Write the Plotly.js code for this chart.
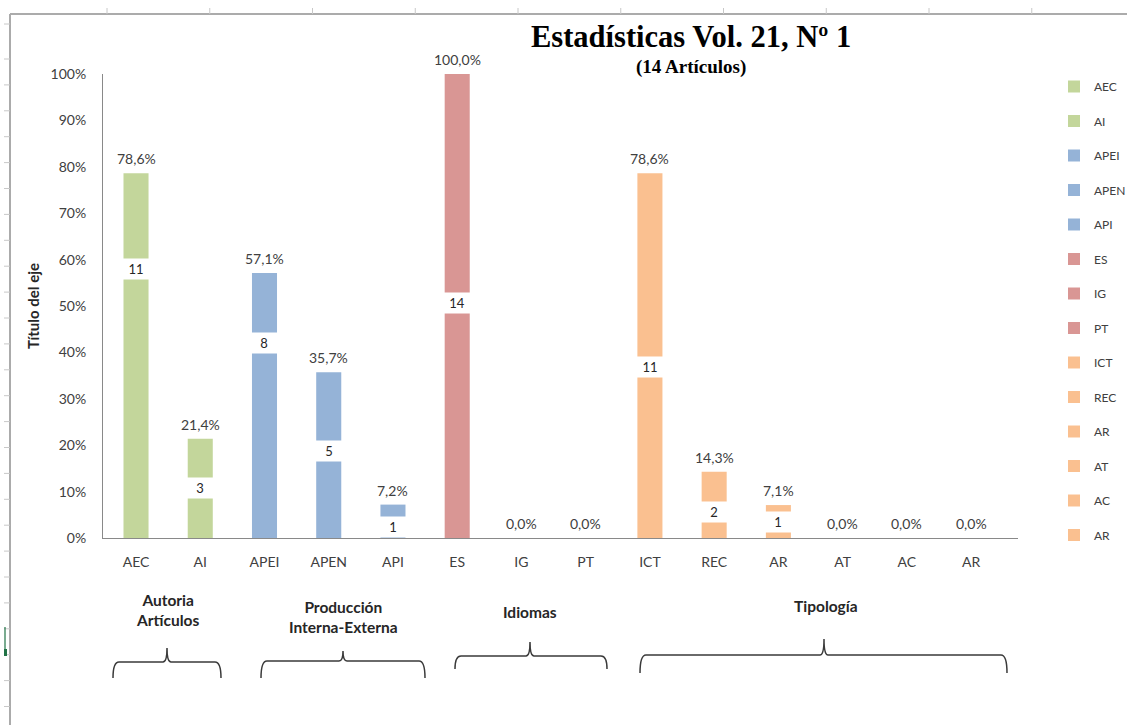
<!DOCTYPE html>
<html>
<head>
<meta charset="utf-8">
<script src="https://cdn.plot.ly/plotly-3.0.1.min.js"></script>
<style>
  html, body { margin: 0; padding: 0; background: #ffffff; }
  #chart { width: 1127px; height: 725px; }
</style>
</head>
<body>
<div id="chart"></div>
<script>
// ---------- DATA ----------
const categories = ['AEC', 'AI', 'APEI', 'APEN', 'API', 'ES', 'IG', 'PT', 'ICT', 'REC', 'AR', 'AT', 'AC', 'AR'];
const percentValues = [78.6, 21.4, 57.1, 35.7, 7.2, 100.0, 0.0, 0.0, 78.6, 14.3, 7.1, 0.0, 0.0, 0.0];
const articleCounts = [11, 3, 8, 5, 1, 14, null, null, 11, 2, 1, null, null, null];
// level (in %) at which each count label sits inside its bar
const countLabelLevel = [58.0, 10.8, 42.0, 18.7, 2.4, 50.6, null, null, 36.9, 5.6, 3.4, null, null, null];
const yTickValues = [0, 10, 20, 30, 40, 50, 60, 70, 80, 90, 100];
const yTickLabels = ['0%', '10%', '20%', '30%', '40%', '50%', '60%', '70%', '80%', '90%', '100%'];
const groupNames = ['Autoria<br>Artículos', 'Producción<br>Interna-Externa', 'Idiomas', 'Tipología'];
const titleText = 'Estadísticas Vol. 21, Nº 1';
const subtitleText = '(14 Artículos)';
const yAxisTitle = 'Título del eje';

// ---------- STYLE ----------
const GREEN = '#C3D69B', BLUE = '#95B3D7', RED = '#D99694', ORANGE = '#FAC090';
const barColors = [GREEN, GREEN, BLUE, BLUE, BLUE, RED, RED, RED, ORANGE, ORANGE, ORANGE, ORANGE, ORANGE, ORANGE];
const FONT = 'Lato, Carlito, Calibri, "Liberation Sans", sans-serif';
const TXT = '#404040';

const W = 1127, H = 725;
const M = { l: 103, r: 109, t: 74, b: 187 };
const plotW = W - M.l - M.r, plotH = H - M.t - M.b;
const px2x = px => (px - M.l) / plotW;
const py2y = py => (H - M.b - py) / plotH;
const P = (x, y) => px2x(x).toFixed(5) + ',' + py2y(y).toFixed(5);

// ---------- TRACES ----------
const traces = categories.map((c, i) => ({
  type: 'bar',
  x: [i],
  y: [percentValues[i]],
  width: 0.39,
  name: c,
  legendgroup: 'g' + i,
  marker: { color: barColors[i], line: { width: 0 } },
  hoverinfo: 'skip',
  cliponaxis: false
}));

// ---------- ANNOTATIONS ----------
const annotations = [];
percentValues.forEach((v, i) => {
  annotations.push({
    x: i, y: v, xref: 'x', yref: 'y',
    text: v.toFixed(1).replace('.', ',') + '%',
    showarrow: false, xanchor: 'center', yanchor: 'bottom', yshift: 4,
    font: { family: FONT, size: 14, color: TXT }
  });
});
articleCounts.forEach((n, i) => {
  if (n === null) return;
  annotations.push({
    x: i, y: countLabelLevel[i], xref: 'x', yref: 'y',
    text: String(n), showarrow: false, xanchor: 'center', yanchor: 'middle',
    bgcolor: '#ffffff', width: 22, height: 14, borderpad: 3,
    font: { family: FONT, size: 13, color: '#262626' }
  });
});
const TITLE_FONT = '"Liberation Serif", "Times New Roman", serif';
annotations.push({
  xref: 'paper', yref: 'paper', x: px2x(691), y: py2y(37), xanchor: 'center', yanchor: 'middle',
  text: '<b>' + titleText + '</b>', showarrow: false,
  font: { family: TITLE_FONT, size: 30.5, color: '#000000' }
});
annotations.push({
  xref: 'paper', yref: 'paper', x: px2x(691), y: py2y(67), xanchor: 'center', yanchor: 'middle',
  text: '<b>' + subtitleText + '</b>', showarrow: false,
  font: { family: TITLE_FONT, size: 19, color: '#000000' }
});
annotations.push({
  xref: 'paper', yref: 'paper', x: px2x(33), y: 0.5, xanchor: 'center', yanchor: 'middle',
  text: '<b>' + yAxisTitle + '</b>', textangle: -90, showarrow: false,
  font: { family: FONT, size: 15, color: '#262626' }
});
// group labels and braces (decoration, placed as in the picture)
const groupDeco = [
  { lx: 167, ly: 610, x0: 113, x1: 221, xm: 167, yh: 662, ye: 678, yp: 648 },
  { lx: 343, ly: 617, x0: 261, x1: 425, xm: 343, yh: 661, ye: 678, yp: 651 },
  { lx: 530, ly: 612, x0: 455, x1: 607, xm: 530, yh: 656, ye: 669, yp: 642 },
  { lx: 826, ly: 606, x0: 640, x1: 1007, xm: 824, yh: 655, ye: 673, yp: 639 }
];
const shapes = [];
groupDeco.forEach((g, k) => {
  annotations.push({
    xref: 'paper', yref: 'paper', x: px2x(g.lx), y: py2y(g.ly), xanchor: 'center', yanchor: 'middle',
    text: '<b>' + groupNames[k] + '</b>', showarrow: false,
    font: { family: FONT, size: 15.5, color: '#262626' }
  });
  const r = 6;
  const path = 'M' + P(g.x0, g.ye) +
    ' Q' + P(g.x0, g.yh) + ' ' + P(g.x0 + r, g.yh) +
    ' L' + P(g.xm - 4, g.yh) +
    ' Q' + P(g.xm, g.yh) + ' ' + P(g.xm, g.yp) +
    ' Q' + P(g.xm, g.yh) + ' ' + P(g.xm + 4, g.yh) +
    ' L' + P(g.x1 - r, g.yh) +
    ' Q' + P(g.x1, g.yh) + ' ' + P(g.x1, g.ye);
  shapes.push({ type: 'path', xref: 'paper', yref: 'paper', path: path,
    line: { color: '#3a3a3a', width: 1.5 } });
});

// spreadsheet frame around the chart
shapes.push({ type: 'line', xref: 'paper', yref: 'paper', x0: px2x(10), x1: px2x(W), y0: py2y(14), y1: py2y(14),
  line: { color: '#ababab', width: 2 } });
shapes.push({ type: 'line', xref: 'paper', yref: 'paper', x0: px2x(10), x1: px2x(10), y0: py2y(14), y1: py2y(H),
  line: { color: '#ababab', width: 2 } });
for (let xp = 107; xp < W; xp += 102.75) {
  shapes.push({ type: 'line', xref: 'paper', yref: 'paper', x0: px2x(xp), x1: px2x(xp), y0: py2y(8), y1: py2y(14),
    line: { color: '#c8c8c8', width: 1 } });
}
const leftTicks = [24];
for (let yp = 59; yp < H; yp += 25.9) leftTicks.push(yp);
leftTicks.forEach(yp => {
  shapes.push({ type: 'line', xref: 'paper', yref: 'paper', x0: px2x(4), x1: px2x(10), y0: py2y(yp), y1: py2y(yp),
    line: { color: '#c8c8c8', width: 1 } });
});
shapes.push({ type: 'line', xref: 'paper', yref: 'paper', x0: px2x(5), x1: px2x(5), y0: py2y(627), y1: py2y(656),
  line: { color: '#217346', width: 1.2 } });
shapes.push({ type: 'rect', xref: 'paper', yref: 'paper', x0: px2x(4), x1: px2x(7), y0: py2y(649), y1: py2y(656),
  line: { width: 0 }, fillcolor: '#217346' });

// ---------- LAYOUT ----------
const layout = {
  width: W, height: H,
  margin: M,
  paper_bgcolor: '#ffffff', plot_bgcolor: '#ffffff',
  barmode: 'overlay',
  showlegend: true,
  legend: {
    xref: 'container', yref: 'container',
    x: 1054 / W, y: 1 - 72 / H, xanchor: 'left', yanchor: 'top',
    font: { family: FONT, size: 12, color: TXT },
    tracegroupgap: 15.5, traceorder: 'grouped',
    maxheight: 700,
    bgcolor: 'rgba(0,0,0,0)'
  },
  xaxis: {
    range: [-0.514, 13.73],
    tickmode: 'array',
    tickvals: categories.map((c, i) => i),
    ticktext: categories,
    showline: true, linecolor: '#898989', linewidth: 1,
    ticks: 'outside', ticklen: 11, tickcolor: 'rgba(0,0,0,0)',
    tickfont: { family: FONT, size: 14, color: TXT },
    showgrid: false, zeroline: false, fixedrange: true
  },
  yaxis: {
    range: [0, 100],
    tickmode: 'array',
    tickvals: yTickValues,
    ticktext: yTickLabels,
    showline: true, linecolor: '#898989', linewidth: 1,
    ticks: 'outside', ticklen: 13, tickcolor: 'rgba(0,0,0,0)',
    tickfont: { family: FONT, size: 14, color: TXT },
    showgrid: false, zeroline: false, fixedrange: true
  },
  annotations: annotations,
  shapes: shapes
};

Plotly.newPlot('chart', traces, layout, { staticPlot: true, displayModeBar: false });
</script>
</body>
</html>
